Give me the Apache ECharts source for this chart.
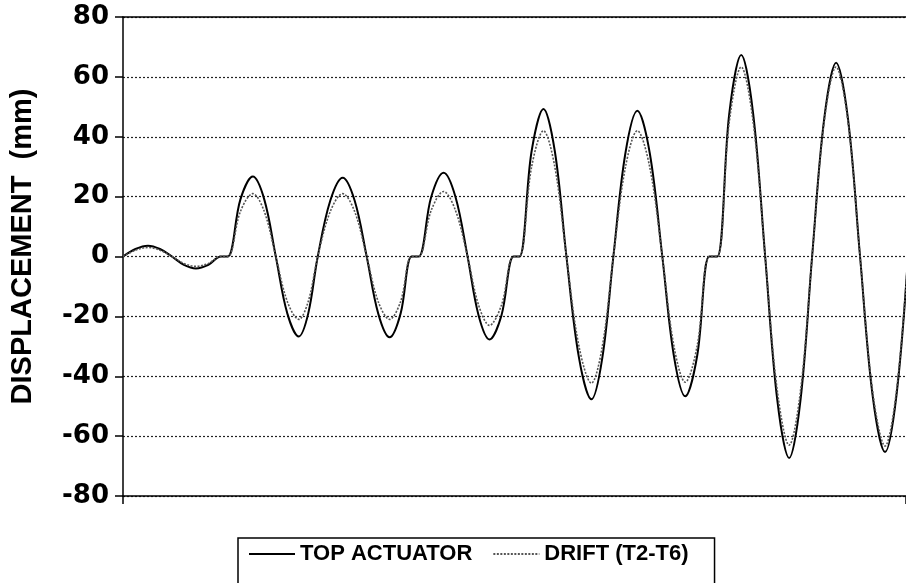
<!DOCTYPE html>
<html>
<head>
<meta charset="utf-8">
<script src="https://cdn.jsdelivr.net/npm/echarts@6/dist/echarts.min.js"></script>
<style>
  html, body { margin: 0; padding: 0; background: #fff; }
  #chart { width: 906px; height: 583px; }
</style>
</head>
<body>
<div id="chart"></div>
<script>
// Time (s) of each sample, shared by both records
const timeS = [
  0, 1.25, 2.5, 3.7, 4.9, 6.1, 7.3, 8.55, 9.8,
  10.5, 11.75, 13.0, 14.15, 15.3, 16.45, 17.6, 18.55, 19.5, 20.75, 22.0, 23.2, 24.4, 25.55, 26.7, 27.8, 28.9,
  29.6, 30.85, 32.1, 33.3, 34.5, 35.6, 36.7, 37.9, 39.1,
  39.7, 40.9, 42.1, 43.25, 44.4, 45.65, 46.9, 48.0, 49.1, 50.3, 51.5, 52.75, 54.0, 55.15, 56.3, 57.5, 58.7,
  59.5, 60.7, 61.9, 63.1, 64.3, 65.5, 66.7, 67.85, 69.0, 70.2, 71.4, 72.6, 73.8, 75.05, 76.3, 77.45, 78.6
];

// Top actuator displacement (mm)
const topActuator = [
  0, 2.5, 3.6, 2.5, 0, -2.8, -4.0, -2.8, 0,
  0, 19, 26.7, 19, 0, -19, -26.7, -19, 0, 18.6, 26.3, 18.6, 0, -19, -27, -19, 0,
  0, 19.8, 28, 19.8, 0, -19.6, -27.7, -19.6, 0,
  0, 34.9, 49.3, 34.9, 0, -33.7, -47.7, -33.7, 0, 34.4, 48.7, 34.4, 0, -33, -46.7, -33, 0,
  0, 47.6, 67.3, 47.6, 0, -47.6, -67.3, -47.6, 0, 45.7, 64.7, 45.7, 0, -46.2, -65.3, -46.2, 0
];

// Storey drift between T2 and T6 (mm)
const drift = [
  0, 2.1, 3.0, 2.1, 0, -2.3, -3.3, -2.3, 0,
  0, 15, 21, 15, 0, -15, -21, -15, 0, 15, 21, 15, 0, -15, -21, -15, 0,
  0, 15.3, 21.7, 15.3, 0, -16.2, -23, -16.2, 0,
  0, 29.7, 42, 29.7, 0, -29.9, -42.3, -29.9, 0, 29.7, 42, 29.7, 0, -29.7, -42, -29.7, 0,
  0, 44.8, 63.3, 44.8, 0, -44.5, -63, -44.5, 0, 44.8, 63.3, 44.8, 0, -44.8, -63.3, -44.8, 0
];

const seriesNames = ['TOP ACTUATOR', 'DRIFT (T2-T6)'];
const yMin = -80, yMax = 80, yStep = 20;
const tMax = 78.4;

const pair = (vals) => timeS.map((t, i) => [t, vals[i]]);

const chart = echarts.init(document.getElementById('chart'), null, { renderer: 'canvas' });

chart.setOption({
  backgroundColor: '#ffffff',
  animation: false,
  grid: { left: 122, right: 0, top: 17, bottom: 87, containLabel: false },
  legend: {
    left: 238,
    top: 538,
    padding: [5, 26, 20, 10],
    itemGap: 20,
    itemWidth: 46,
    itemHeight: 14,
    borderColor: '#000',
    borderWidth: 1.5,
    itemStyle: { opacity: 0 },
    textStyle: { fontFamily: 'Liberation Sans', fontWeight: 'bold', fontSize: 22, color: '#000' },
    data: seriesNames
  },
  xAxis: [
    {
      type: 'value', min: 0, max: tMax, interval: tMax,
      axisLine: { onZero: false, lineStyle: { color: '#000', width: 1.5 } },
      axisTick: { show: true, length: 8, lineStyle: { color: '#000', width: 1.5 } },
      axisLabel: { show: false },
      splitLine: { show: false }
    },
    {
      type: 'value', position: 'top', min: 0, max: tMax,
      axisLine: { show: true, onZero: false, lineStyle: { color: '#000', width: 1.5 } },
      axisTick: { show: false }, axisLabel: { show: false }, splitLine: { show: false }
    }
  ],
  yAxis: {
    type: 'value', min: yMin, max: yMax, interval: yStep,
    name: 'DISPLACEMENT  (mm)',
    nameLocation: 'middle',
    nameGap: 86,
    nameTextStyle: { fontFamily: 'Liberation Sans', fontWeight: 'bold', fontSize: 29, color: '#000', padding: [0, 0, 0, 20] },
    axisLine: { show: true, lineStyle: { color: '#000', width: 1.5 } },
    axisTick: { show: true, length: 8, lineStyle: { color: '#000', width: 1.5 } },
    axisLabel: { margin: 14, fontFamily: 'DejaVu Sans', fontWeight: 'bold', fontSize: 26, color: '#000' },
    splitLine: { show: true, lineStyle: { color: '#222', width: 1.2, type: [2, 2] } }
  },
  series: [
    {
      name: seriesNames[0], type: 'line', data: pair(topActuator),
      symbol: 'none', smooth: 0.35, clip: true,
      lineStyle: { color: '#000', width: 2 }, itemStyle: { color: '#000' }, z: 3
    },
    {
      name: seriesNames[1], type: 'line', data: pair(drift),
      symbol: 'none', smooth: 0.35, clip: true,
      lineStyle: { color: '#555', width: 1.6, type: [2, 1.5] }, itemStyle: { color: '#555' }, z: 4
    }
  ]
});
</script>
</body>
</html>
